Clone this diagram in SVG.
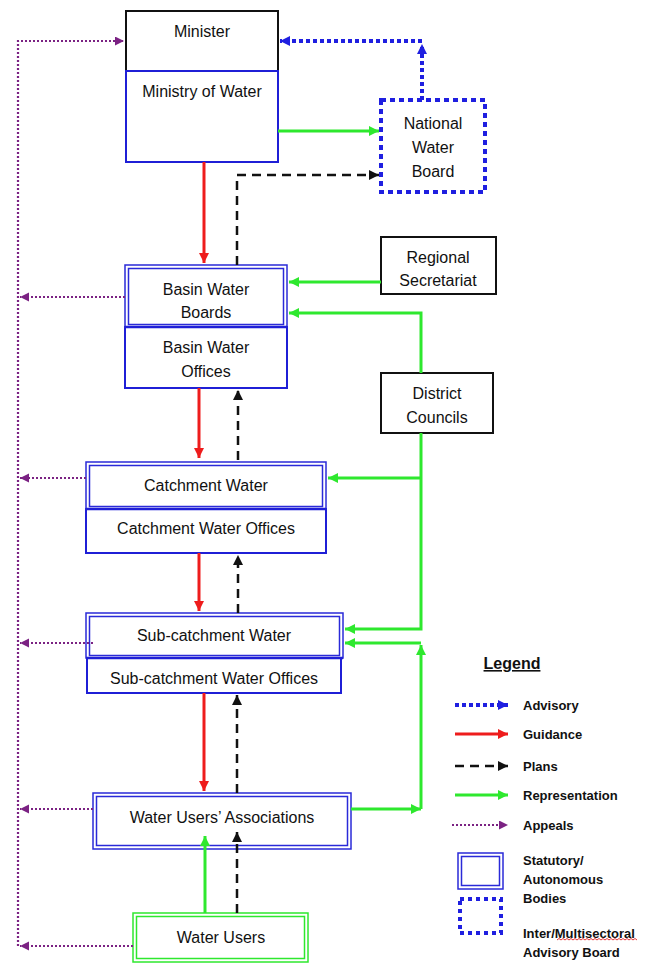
<svg xmlns="http://www.w3.org/2000/svg" width="654" height="963" viewBox="0 0 654 963">
<style>
text{font-family:"Liberation Sans",Arial,sans-serif;font-size:16px;fill:#111;text-anchor:middle}
.lg{font-weight:bold;font-size:13px;text-anchor:start}
.box{fill:#fff;stroke:#1f1fd6;stroke-width:2}
.dbl{fill:none;stroke:#2a2ad8;stroke-width:1.5}
.blk{fill:#fff;stroke:#111;stroke-width:2}
.red{fill:none;stroke:#ee1c1c;stroke-width:3}
.grn{fill:none;stroke:#2ee82e;stroke-width:3}
.pln{fill:none;stroke:#111;stroke-width:2.5;stroke-dasharray:9,6}
.adv{fill:none;stroke:#1f1fe0;stroke-width:4;stroke-dasharray:4,3}
.app{fill:none;stroke:#7b2283;stroke-width:2.2;stroke-dasharray:2,2}
</style>
<defs>
<marker id="mR" markerUnits="userSpaceOnUse" markerWidth="12" markerHeight="12" refX="10" refY="5" orient="auto"><path d="M0,0 L10,5 L0,10 z" fill="#ee1c1c"/></marker>
<marker id="mG" markerUnits="userSpaceOnUse" markerWidth="12" markerHeight="12" refX="10" refY="5" orient="auto"><path d="M0,0 L10,5 L0,10 z" fill="#2ee82e"/></marker>
<marker id="mK" markerUnits="userSpaceOnUse" markerWidth="12" markerHeight="12" refX="10" refY="5" orient="auto"><path d="M0,0 L10,5 L0,10 z" fill="#111"/></marker>
<marker id="mB" markerUnits="userSpaceOnUse" markerWidth="12" markerHeight="12" refX="10" refY="5" orient="auto"><path d="M0,0 L10,5 L0,10 z" fill="#1f1fe0"/></marker>
<marker id="mP" markerUnits="userSpaceOnUse" markerWidth="12" markerHeight="12" refX="9" refY="4.5" orient="auto"><path d="M0,0 L9,4.5 L0,9 z" fill="#7b2283"/></marker>
</defs>
<rect width="654" height="963" fill="#fff"/>

<g id="ministry">
<rect class="blk" x="126" y="11" width="152" height="60"/>
<rect class="box" x="126" y="71" width="152" height="91"/>
<text x="202" y="37">Minister</text>
<text x="202" y="97">Ministry of Water</text>
</g>

<g id="national-water-board">
<rect x="381" y="100" width="104" height="92" fill="#fff" stroke="#1f1fe0" stroke-width="4" stroke-dasharray="5,4"/>
<text x="433" y="129">National</text>
<text x="433" y="153">Water</text>
<text x="433" y="177">Board</text>
</g>

<g id="regional-secretariat">
<rect class="blk" x="381" y="237" width="115" height="57"/>
<text x="438" y="263">Regional</text>
<text x="438" y="286">Secretariat</text>
</g>

<g id="district-councils">
<rect class="blk" x="381" y="373" width="112" height="60"/>
<text x="437" y="399">District</text>
<text x="437" y="423">Councils</text>
</g>

<g id="basin">
<rect class="box" x="125" y="327" width="162" height="61"/>
<rect x="125" y="265" width="162" height="62" fill="#fff" stroke="#2a2ad8" stroke-width="1.5"/>
<rect class="dbl" x="128.5" y="268.5" width="155" height="56"/>
<path d="M125,327 H287" stroke="#1f1fd6" stroke-width="2.5"/>
<text x="206" y="295">Basin Water</text>
<text x="206" y="318">Boards</text>
<text x="206" y="353">Basin Water</text>
<text x="206" y="377">Offices</text>
</g>

<g id="catchment">
<rect class="box" x="86" y="509" width="240" height="44"/>
<rect x="86" y="462" width="240" height="47" fill="#fff" stroke="#2a2ad8" stroke-width="1.5"/>
<rect class="dbl" x="89.5" y="465.5" width="233" height="41"/>
<path d="M86,509 H326" stroke="#1f1fd6" stroke-width="2.5"/>
<text x="206" y="491">Catchment Water</text>
<text x="206" y="534">Catchment Water Offices</text>
</g>

<g id="sub-catchment">
<rect class="box" x="87" y="658" width="254" height="35"/>
<rect x="86" y="613" width="257" height="45" fill="#fff" stroke="#2a2ad8" stroke-width="1.5"/>
<rect class="dbl" x="89.5" y="616.5" width="250" height="39"/>
<path d="M86,658 H343" stroke="#1f1fd6" stroke-width="2.5"/>
<text x="214" y="641">Sub-catchment Water</text>
<text x="214" y="684">Sub-catchment Water Offices</text>
</g>

<g id="water-users-associations">
<rect x="93" y="793" width="258" height="56" fill="#fff" stroke="#2a2ad8" stroke-width="1.5"/>
<rect class="dbl" x="96.5" y="796.5" width="251" height="49"/>
<text x="222" y="823">Water Users’ Associations</text>
</g>

<g id="water-users">
<rect x="133" y="913" width="175" height="49" fill="#fff" stroke="#2ee82e" stroke-width="1.5"/>
<rect x="136.5" y="916.5" width="168" height="42" fill="none" stroke="#2ee82e" stroke-width="1.5"/>
<text x="221" y="943">Water Users</text>
</g>

<g id="connectors">
<!-- appeals -->
<path class="app" d="M18,946 V41 H124" marker-end="url(#mP)"/>
<path class="app" d="M125,297 H20" marker-end="url(#mP)"/>
<path class="app" d="M86,478 H20" marker-end="url(#mP)"/>
<path class="app" d="M93,643 H20" marker-end="url(#mP)"/>
<path class="app" d="M93,809 H20" marker-end="url(#mP)"/>
<path class="app" d="M133,946 H20" marker-end="url(#mP)"/>
<!-- advisory -->
<path class="adv" d="M422,100 V44" marker-end="url(#mB)"/>
<path class="adv" d="M422,41 H280" marker-end="url(#mB)"/>
<!-- guidance -->
<path class="red" d="M204,162 V263" marker-end="url(#mR)"/>
<path class="red" d="M199,388 V458" marker-end="url(#mR)"/>
<path class="red" d="M199,553 V611" marker-end="url(#mR)"/>
<path class="red" d="M204,693 V791" marker-end="url(#mR)"/>
<!-- plans -->
<path class="pln" d="M237,265 V175 H379" marker-end="url(#mK)"/>
<path class="pln" d="M238,460 V390" marker-end="url(#mK)"/>
<path class="pln" d="M238,613 V555" marker-end="url(#mK)"/>
<path class="pln" d="M237,793 V695" marker-end="url(#mK)"/>
<path class="pln" d="M237,913 V832" marker-end="url(#mK)"/>
<!-- representation -->
<path class="grn" d="M278,131 H379" marker-end="url(#mG)"/>
<path class="grn" d="M381,282 H289" marker-end="url(#mG)"/>
<path class="grn" d="M421,373 V313 H289" marker-end="url(#mG)"/>
<path class="grn" d="M421,433 V629 H345" marker-end="url(#mG)"/>
<path class="grn" d="M421,478 H328" marker-end="url(#mG)"/>
<path class="grn" d="M351,809 H421" marker-end="url(#mG)"/>
<path class="grn" d="M421,809 V645" marker-end="url(#mG)"/>
<path class="grn" d="M421,643 H345" marker-end="url(#mG)"/>
<path class="grn" d="M205,913 V836" marker-end="url(#mG)"/>
</g>

<g id="legend">
<text x="512" y="669" style="font-weight:bold;text-decoration:underline">Legend</text>
<path class="adv" d="M455,705 H508" stroke-width="3" marker-end="url(#mB)"/>
<path class="red" d="M455,734 H508" marker-end="url(#mR)"/>
<path class="pln" d="M455,766 H508" stroke-width="2" marker-end="url(#mK)"/>
<path class="grn" d="M455,795 H508" marker-end="url(#mG)"/>
<path class="app" d="M452,825 H508" stroke-width="1.8" marker-end="url(#mP)"/>
<text class="lg" x="523" y="710">Advisory</text>
<text class="lg" x="523" y="739">Guidance</text>
<text class="lg" x="523" y="771">Plans</text>
<text class="lg" x="523" y="800">Representation</text>
<text class="lg" x="523" y="830">Appeals</text>
<rect x="458" y="853" width="45" height="36" fill="none" stroke="#2a2ad8" stroke-width="1.5"/>
<rect x="461.5" y="856.5" width="38" height="29" fill="none" stroke="#2a2ad8" stroke-width="1.5"/>
<rect x="460" y="899" width="41" height="34" fill="none" stroke="#1f1fe0" stroke-width="4" stroke-dasharray="4,4"/>
<text class="lg" x="523" y="865">Statutory/</text>
<text class="lg" x="523" y="884">Autonomous</text>
<text class="lg" x="523" y="903">Bodies</text>
<text class="lg" x="523" y="938">Inter/Multisectoral</text>
<text class="lg" x="523" y="957">Advisory Board</text>
<path d="M557,940 l2,-1.5 l2,1.5 l2,-1.5 l2,1.5 l2,-1.5 l2,1.5 l2,-1.5 l2,1.5 l2,-1.5 l2,1.5 l2,-1.5 l2,1.5 l2,-1.5 l2,1.5 l2,-1.5 l2,1.5 l2,-1.5 l2,1.5 l2,-1.5 l2,1.5 l2,-1.5 l2,1.5 l2,-1.5 l2,1.5 l2,-1.5 l2,1.5 l2,-1.5 l2,1.5 l2,-1.5 l2,1.5 l2,-1.5 l2,1.5 l2,-1.5 l2,1.5 l2,-1.5 l2,1.5 l2,-1.5 l2,1.5 l2,-1.5 l2,1.5" fill="none" stroke="#e02020" stroke-width="0.9"/>
</g>
</svg>
